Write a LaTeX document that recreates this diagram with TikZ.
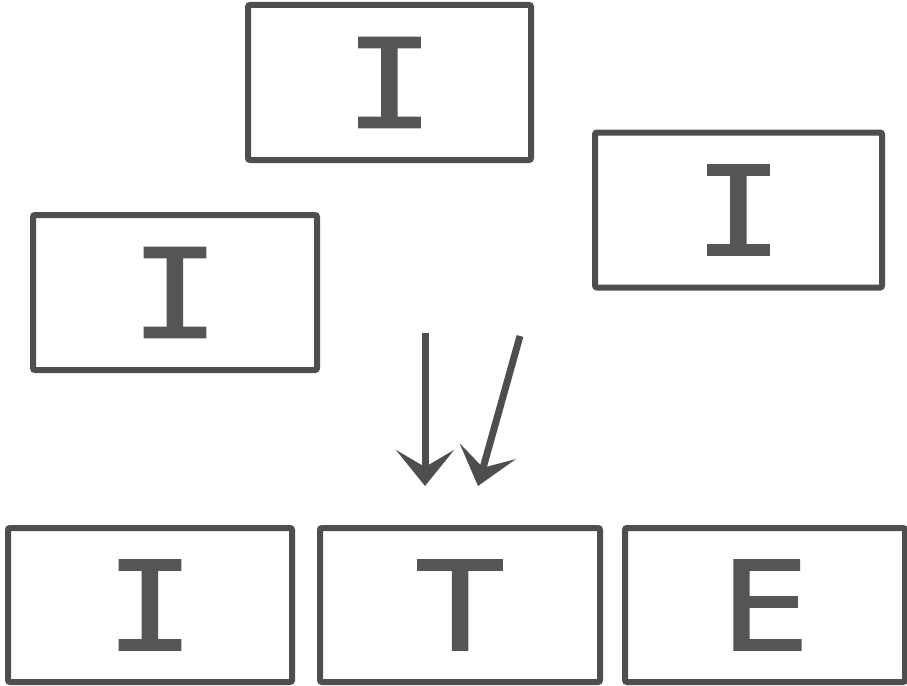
\documentclass[tikz,border=0pt]{standalone}
\usepackage{fontspec}
\newfontfamily\lettermono[FakeStretch=1.22, FakeBold=1.2]{DejaVu Sans Mono}
\usetikzlibrary{arrows.meta}
\definecolor{ink}{HTML}{4E4E4E}
\definecolor{letterink}{HTML}{555555}
\tikzset{
  tile/.style={draw=ink, line width=6pt, rounded corners=2pt, fill=white,
    minimum height=155pt, inner sep=0pt,
    font=\lettermono\fontsize{124}{124}\selectfont, text=letterink},
  pointer/.style={draw=ink, line width=7pt,
    -{Stealth[length=36pt, width=58pt, inset=17pt]}}
}
\begin{document}
\begin{tikzpicture}[x=1pt, y=-1pt]
  \useasboundingbox (0,0) rectangle (907,685);
  % scattered tiles
  \node[tile, minimum width=283pt] (top)   at (389.5,82.5) {I};
  \node[tile, minimum width=287pt] (right) at (738.5,210)  {I};
  \node[tile, minimum width=284pt] (left)  at (175,292.5)  {I};
  % the word row
  \node[tile, minimum width=284pt, minimum height=154pt] (w1) at (150,605) {I};
  \node[tile, minimum width=280pt, minimum height=154pt] (w2) at (460,605) {T};
  \node[tile, minimum width=280pt, minimum height=154pt] (w3) at (765,605) {E};
  % arrows dropping into the middle slot
  \coordinate (a1s) at (425,333);
  \coordinate (a1e) at (425,486);
  \coordinate (a2s) at (520,336);
  \coordinate (a2e) at (478,486);
  \draw[pointer] (a1s) -- (a1e);
  \draw[pointer] (a2s) -- (a2e);
\end{tikzpicture}
\end{document}
